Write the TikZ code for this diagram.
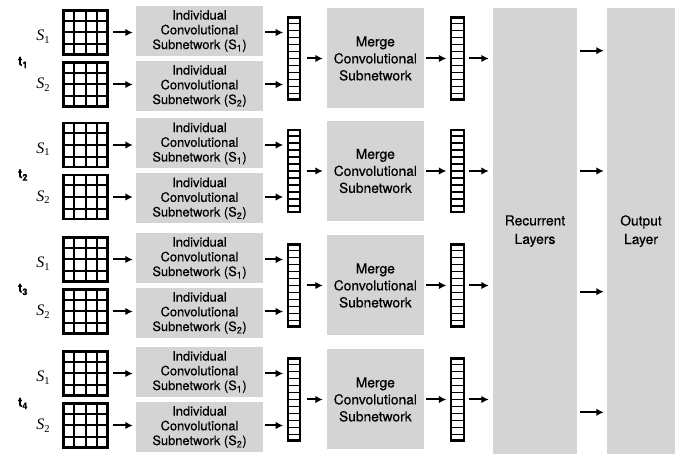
\documentclass[tikz,border=0pt]{standalone}
\usepackage{fontspec}
\setmainfont[FakeBold=0.35]{TeX Gyre Heros}
\newfontfamily\lserif{Liberation Serif}
\usetikzlibrary{arrows.meta,calc}
\definecolor{boxgray}{RGB}{212,212,212}
\newcommand{\slab}[1]{{\lserif\itshape S}\raisebox{-2.5pt}{\lserif\fontsize{10.5}{10.5}\selectfont #1}}
\tikzset{
  arr/.style={line width=2pt,-{Latex[length=7.5pt,width=7.5pt]}},
  gbox/.style={fill=boxgray,draw=none,inner sep=0pt,align=center,text=black},
  indbox/.style={gbox,minimum width=127pt,minimum height=50pt,font=\fontsize{12.9}{14.7}\selectfont},
  mergebox/.style={gbox,minimum width=97.3pt,minimum height=100pt,font=\fontsize{13.8}{17}\selectfont},
  tallbox/.style={gbox,minimum height=445.7pt,font=\fontsize{13.8}{18.5}\selectfont},
  gridnode/.style={draw=black,line width=2.4pt,minimum width=44pt,minimum height=44pt,inner sep=0pt},
  gridline/.style={line width=2pt},
  vecnode/.style={draw=black,line width=2.2pt,minimum width=12.4pt,minimum height=82pt,inner sep=0pt},
  vecline/.style={line width=1.8pt},
  slabel/.style={inner sep=0pt,font=\fontsize{16}{16}\selectfont},
  tlabel/.style={inner sep=0pt,font=\fontsize{13}{13}\selectfont\bfseries},
}
\begin{document}
\begin{tikzpicture}[x=1pt,y=-1pt]
\useasboundingbox (0,0) rectangle (678,454);
% tall boxes
\node[tallbox,minimum width=84pt] (rec) at (535,231.15) {Recurrent\\Layers};
\node[tallbox,minimum width=68pt] (out) at (641,231.15) {Output\\Layer};
\foreach \k/\yy in {1/50.7,2/171,3/291.7,4/412.3}{
  \coordinate (ya\k) at (600,\yy);
  \draw[arr,shorten <=3pt,shorten >=3pt] (rec.east |- ya\k) -- (out.west |- ya\k);
}
\foreach \r/\c in {1/58.5,2/171,3/285.5,4/399.5}{
  % row label
  \node[tlabel] (t\r) at (23,\c+4) {t\textsubscript{\r}};
  % S labels
  \node[slabel] (sa\r) at (43,\c-22) {\slab{1}};
  \node[slabel] (sb\r) at (43,\c+26) {\slab{2}};
  % grids
  \node[gridnode] (ga\r) at (85.5,\c-26) {};
  \node[gridnode] (gb\r) at (85.5,\c+26) {};
  \foreach \g in {ga\r,gb\r}{
    \foreach \k in {1,2,3}{
      \draw[gridline] ($(\g.north west)!\k/4!(\g.north east)$) -- ($(\g.south west)!\k/4!(\g.south east)$);
      \draw[gridline] ($(\g.north west)!\k/4!(\g.south west)$) -- ($(\g.north east)!\k/4!(\g.south east)$);
    }
  }
  % individual boxes
  \node[indbox] (ia\r) at (199.5,\c-27.5) {Individual\\Convolutional\\Subnetwork (S\textsubscript{1})};
  \node[indbox] (ib\r) at (199.5,\c+27.5) {Individual\\Convolutional\\Subnetwork (S\textsubscript{2})};
  % vectors
  \node[vecnode] (va\r) at (294,\c) {};
  \node[vecnode] (vb\r) at (457.5,\c) {};
  \foreach \v in {va\r,vb\r}{
    \foreach \k in {1,...,11}{
      \draw[vecline] ($(\v.north west)!\k/12!(\v.south west)$) -- ($(\v.north east)!\k/12!(\v.south east)$);
    }
  }
  % merge box
  \node[mergebox] (m\r) at (375.35,\c) {Merge\\Convolutional\\Subnetwork};
  % arrows
  \draw[arr,shorten <=4.5pt,shorten >=3pt] (ga\r.east) -- (ga\r.east -| ia\r.west);
  \draw[arr,shorten <=4.5pt,shorten >=3pt] (gb\r.east) -- (gb\r.east -| ib\r.west);
  \draw[arr,shorten <=2pt,shorten >=3.5pt] (ga\r.east -| ia\r.east) -- (ga\r.east -| va\r.west);
  \draw[arr,shorten <=2pt,shorten >=3.5pt] (gb\r.east -| ib\r.east) -- (gb\r.east -| va\r.west);
  \draw[arr,shorten <=5.4pt,shorten >=3.7pt] (va\r.east) -- (m\r.west);
  \draw[arr,shorten <=1.7pt,shorten >=3.8pt] (m\r.east) -- (vb\r.west);
  \draw[arr,shorten <=4.5pt,shorten >=4pt] (vb\r.east) -- (vb\r.east -| rec.west);
}
\end{tikzpicture}
\end{document}
